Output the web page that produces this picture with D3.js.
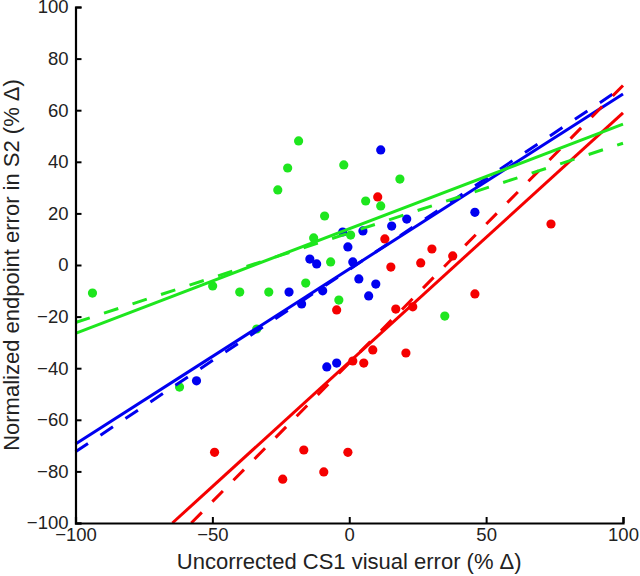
<!DOCTYPE html>
<html>
<head>
<meta charset="utf-8">
<script src="https://cdn.jsdelivr.net/npm/d3@7"></script>
<style>
  body { margin: 0; background: #fff; }
  text { font-family: "Liberation Sans", Arial, sans-serif; fill: #222; }
</style>
</head>
<body>
<script>
// tick values
var xTicks = [-100, -50, 0, 50, 100];
var yTicks = [-100, -80, -60, -40, -20, 0, 20, 40, 60, 80, 100];

// scatter points [x, y]
var bluePts = [[-55.8,-44.9],[-22,-10.5],[-17.4,-15.1],[-14.4,2.3],[-11.9,0.4],[-9.7,-10],
  [-8.2,-39.5],[-4.6,-38],[-2.4,12.8],[-0.5,7],[1.3,1.2],[3.5,-5.4],[5,13.2],[7.1,-12],
  [9.7,-7.4],[11.5,44.6],[15.5,15.1],[21,17.8],[45.9,20.4]];
var redPts = [[-49.2,-72.6],[-24.3,-83],[-16.6,-71.7],[-9.3,-80.2],[-4.6,-17.4],[-0.5,-72.6],
  [1.3,-37.2],[5.3,-38],[8.6,-32.9],[10.4,26.4],[13,10.1],[15.2,-0.8],[17,-17.1],[20.7,-34.1],
  [23.2,-16.2],[26.1,0.8],[30.2,6.2],[37.8,3.5],[45.9,-11.2],[73.7,15.9]];
var greenPts = [[-93.8,-10.9],[-62,-47.3],[-49.9,-8.1],[-40,-10.5],[-33.8,-24.8],[-29.4,-10.5],
  [-26.1,29.1],[-22.5,37.6],[-18.5,48.1],[-15.9,-7],[-13,10.5],[-9,19],[-6.8,1.2],[-3.8,-13.6],
  [-2,38.8],[0.5,11.6],[6,24.8],[11.5,22.9],[18.5,33.3],[34.9,-19.8]];

// fit lines, end points [[x1,y1],[x2,y2]]
var blueSolid = [[-100,-69.4],[100,66.3]];
var blueDash = [[-100,-72.4],[100,68.9]];
var redSolid = [[-64.6,-100],[100,59]];
var redDash = [[-57.7,-100],[100,69.6]];
var greenSolid = [[-100,-26.5],[100,54.6]];
var greenDash = [[-100,-22.3],[100,47.2]];

var width = 640, height = 576;
var x = d3.scaleLinear().domain([-100, 100]).range([75.5, 623]);
var y = d3.scaleLinear().domain([-100, 100]).range([523, 7]);

var svg = d3.select("body").append("svg")
  .attr("width", width)
  .attr("height", height);

var groups = [
  { pts: bluePts, solid: blueSolid, dash: blueDash, color: "#0000f0" },
  { pts: redPts, solid: redSolid, dash: redDash, color: "#f50000" },
  { pts: greenPts, solid: greenSolid, dash: greenDash, color: "#1ee61e" }
];

// points
groups.forEach(function (g) {
  svg.append("g").selectAll("circle")
    .data(g.pts)
    .enter().append("circle")
    .attr("cx", function (d) { return x(d[0]); })
    .attr("cy", function (d) { return y(d[1]); })
    .attr("r", 4.6)
    .attr("fill", g.color);
});

// lines
var line = d3.line()
  .x(function (d) { return x(d[0]); })
  .y(function (d) { return y(d[1]); });

groups.forEach(function (g) {
  svg.append("path")
    .attr("d", line(g.solid))
    .attr("fill", "none")
    .attr("stroke", g.color)
    .attr("stroke-width", 3);
  svg.append("path")
    .attr("d", line(g.dash))
    .attr("fill", "none")
    .attr("stroke", g.color)
    .attr("stroke-width", 3)
    .attr("stroke-dasharray", "15,15");
});

// axes (MATLAB style, ticks inward)
var fmt = function (d) { return d < 0 ? "\u2212" + Math.abs(d) : d; };

var xAxis = svg.append("g")
  .attr("transform", "translate(0," + y(-100) + ")")
  .call(d3.axisBottom(x).tickValues(xTicks).tickSize(-6).tickPadding(5).tickFormat(fmt));
var yAxis = svg.append("g")
  .attr("transform", "translate(" + x(-100) + ",0)")
  .call(d3.axisLeft(y).tickValues(yTicks).tickSize(-6).tickPadding(7).tickFormat(fmt));

[xAxis, yAxis].forEach(function (a) {
  a.select(".domain").attr("stroke", "#000").attr("stroke-width", 2.2);
  a.selectAll(".tick line").attr("stroke", "#000").attr("stroke-width", 2);
  a.selectAll(".tick text")
    .attr("fill", "#222")
    .style("font-family", "'Liberation Sans', Arial, sans-serif")
    .style("font-size", "18.5px");
});

// axis titles
svg.append("text")
  .attr("x", (x(-100) + x(100)) / 2)
  .attr("y", 569)
  .attr("text-anchor", "middle")
  .style("font-size", "22px")
  .text("Uncorrected CS1 visual error (% \u0394)");

svg.append("text")
  .attr("transform", "translate(19," + y(0) + ") rotate(-90)")
  .attr("text-anchor", "middle")
  .style("font-size", "22px")
  .text("Normalized endpoint error in S2 (% \u0394)");
</script>
</body>
</html>
